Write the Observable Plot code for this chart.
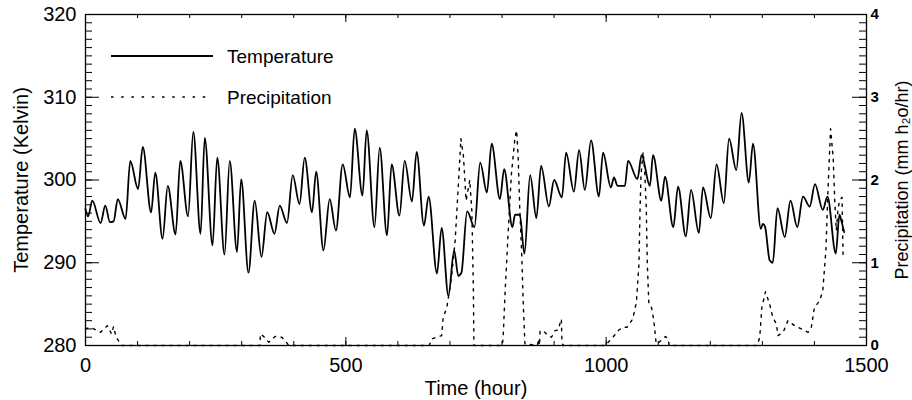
<!DOCTYPE html>
<html><head><meta charset="utf-8">
<script src="https://cdn.jsdelivr.net/npm/d3@7"></script>
<script src="https://cdn.jsdelivr.net/npm/@observablehq/plot@0.6"></script>
<style>
body{margin:0;background:#fff;}
#wrap{position:relative;width:912px;height:400px;}
#legend{position:absolute;left:0;top:0;pointer-events:none;}
</style></head><body>
<div id="wrap"><div id="chart"></div>
<svg id="legend" width="912" height="400" font-family="Liberation Sans" font-size="19">
  <line x1="111" y1="56" x2="213" y2="56" stroke="#000" stroke-width="1.8"/>
  <text x="227" y="62.5">Temperature</text>
  <line x1="111" y1="97" x2="213" y2="97" stroke="#000" stroke-width="1.4" stroke-dasharray="2.5,7.7"/>
  <text x="227" y="103.5">Precipitation</text>
</svg></div>
<script>
// Temperature (Kelvin) turning points
const tempHours = [0,5,13,29,38,47,54,62,77,86,101,110,126,134,148,158,173,182,197,207,221,229,244,253,267,277,291,299,313,325,338,349,363,373,387,398,411,421,435,443,457,469,481,494,508,517,532,540,555,565,579,588,603,613,627,636,650,659,675,684,697,708,716,722,733,747,758,771,780,796,804,820,825,834,843,854,866,875,890,900,915,923,938,948,959,971,986,994,1009,1015,1022,1036,1042,1060,1068,1084,1090,1106,1113,1129,1138,1153,1163,1178,1186,1201,1212,1226,1236,1250,1260,1274,1282,1297,1301,1305,1314,1320,1329,1343,1354,1367,1378,1391,1401,1416,1425,1441,1448,1452,1457];
const tempK = [296.5,295.6,297.5,294.8,296.9,294.9,295.0,297.7,295.3,302.3,298.9,304.0,296.1,300.9,292.9,299.3,293.4,302.3,295.6,305.8,293.5,305.1,292.1,302.7,291.0,302.3,291.3,300.1,288.8,297.5,290.7,296.1,293.5,296.9,294.8,300.6,297.1,302.7,296.1,301.0,291.5,297.7,293.9,301.9,297.9,306.2,298.1,306.0,294.3,303.9,293.3,301.9,295.7,302.3,297.4,303.4,294.5,298.0,288.7,294.2,286.0,291.5,288.4,288.8,296.2,294.3,302.1,298.5,304.4,297.7,301.3,294.3,295.8,295.8,291.1,300.6,295.4,301.7,296.8,300.0,297.9,303.3,298.6,303.6,298.8,304.8,298.0,303.3,299.1,300.3,299.3,299.3,302.3,300.1,303.0,299.3,303.0,297.5,300.4,294.3,299.2,293.2,298.8,293.6,299.1,295.4,301.9,297.2,305.0,301.2,308.1,299.7,304.4,294.1,294.7,294.4,290.3,290.0,296.6,293.1,297.5,294.3,298.0,296.8,299.5,296.4,298.0,291.1,295.8,295.0,293.7];

// Precipitation (mm h2o/hr)
const precipHours = [0,8,16,29,42,50,54,58,64,70,335,336,344,352,364,377,387,390,660,665,684,687,694,703,710,714,718,721,726,731,738,742,745,746,800,802,806,812,818,825,828,831,834,838,841,844,868,870,872,873,882,889,895,902,908,911,914,915,917,1000,1004,1013,1023,1031,1040,1051,1058,1063,1065,1067,1071,1074,1077,1079,1082,1087,1090,1093,1096,1100,1114,1119,1121,1290,1295,1299,1306,1314,1320,1327,1330,1340,1349,1362,1375,1388,1394,1400,1410,1416,1422,1426,1431,1436,1439,1442,1445,1448,1453,1455];
const precipRate = [0.2,0.22,0.2,0.16,0.24,0.14,0.23,0.12,0.05,0,0,0.14,0.1,0.04,0.11,0.1,0.03,0,0,0.08,0.12,0.34,0.46,0.83,1.27,1.71,2.15,2.5,2.28,1.75,2.0,1.63,0.66,0,0,0.08,0.66,1.39,2.07,2.52,2.6,2.27,1.67,1.07,0.46,0.02,0,0.08,0,0.18,0.16,0.12,0.1,0.18,0.19,0.26,0.32,0.06,0,0,0.04,0.1,0.18,0.22,0.22,0.32,0.52,0.99,1.63,2.07,2.34,2.11,1.67,0.99,0.5,0.46,0.36,0.22,0.02,0.03,0.11,0.08,0,0,0.1,0.46,0.65,0.5,0.34,0.26,0.12,0.16,0.3,0.24,0.2,0.16,0.22,0.46,0.54,0.66,1.15,1.87,2.62,2.27,1.75,1.39,1.63,1.75,1.79,1.1];

const xTicks = [0,500,1000,1500];
const xMinor = [0,100,200,300,400,500,600,700,800,900,1000,1100,1200,1300,1400,1500];
const leftTicks = [280,290,300,310,320];
const rightTicks = [0,1,2,3,4];

const W = 912, H = 400, mL = 85, mR = 46, mT = 14, mB = 55;
const pw = W - mL - mR, ph = H - mT - mB;

const temp = tempHours.map((h, i) => ({h, v: tempK[i]}));
// precipitation drawn against the right axis: 0..4 maps onto 280..320
const prec = precipHours.map((h, i) => ({h, v: 280 + precipRate[i] * 10}));
const yMinor = d3.range(280, 321, 1);

const chart = Plot.plot({
  width: W, height: H,
  marginLeft: mL, marginRight: mR, marginTop: mT, marginBottom: mB,
  style: {fontFamily: "Liberation Sans", fontSize: "20px", color: "#000", background: "#fff", overflow: "visible"},
  x: {domain: [0, 1500]},
  y: {domain: [280, 320]},
  marks: [
    Plot.line(prec, {x: "h", y: "v", stroke: "#000", strokeWidth: 1.4, strokeDasharray: "2.5,5.5"}),
    Plot.line(temp, {x: "h", y: "v", stroke: "#000", strokeWidth: 1.8, curve: "monotone-x"}),
    Plot.frame({stroke: "#000", strokeWidth: 1.3}),
    Plot.tickY(yMinor, {y: d => d, insetRight: pw - 7, stroke: "#000"}),
    Plot.tickY(leftTicks, {y: d => d, insetRight: pw - 14, stroke: "#000"}),
    Plot.tickY(yMinor, {y: d => d, insetLeft: pw - 7, stroke: "#000"}),
    Plot.tickY(leftTicks, {y: d => d, insetLeft: pw - 14, stroke: "#000"}),
    Plot.tickX(xMinor, {x: d => d, insetTop: ph - 4, stroke: "#000"}),
    Plot.tickX(xMinor, {x: d => d, insetBottom: ph - 4, stroke: "#000"}),
    Plot.tickX(xTicks, {x: d => d, insetTop: ph - 8, stroke: "#000"}),
    Plot.tickX(xTicks, {x: d => d, insetBottom: ph - 8, stroke: "#000"}),
    Plot.axisX({ticks: xTicks, tickSize: 0, tickPadding: 12, tickFormat: d => String(d), label: "Time (hour)", labelAnchor: "center", labelArrow: "none", labelOffset: 49}),
    Plot.axisY({ticks: leftTicks, anchor: "left", tickSize: 0, tickPadding: 9, label: "Temperature (Kelvin)", labelAnchor: "center", labelArrow: "none", labelOffset: 72}),
    Plot.axisY({ticks: rightTicks.map(p => 280 + p * 10), anchor: "right", tickSize: 0, tickPadding: 4, fontSize: 15, fontWeight: "bold", tickFormat: d => String((d - 280) / 10), label: null}),
    Plot.axisY({ticks: [], anchor: "right", tickSize: 0, fontSize: 18, label: "Precipitation (mm h₂o/hr)", labelAnchor: "center", labelArrow: "none", labelOffset: 41})
  ]
});
document.getElementById("chart").appendChild(chart);
</script>
</body></html>
